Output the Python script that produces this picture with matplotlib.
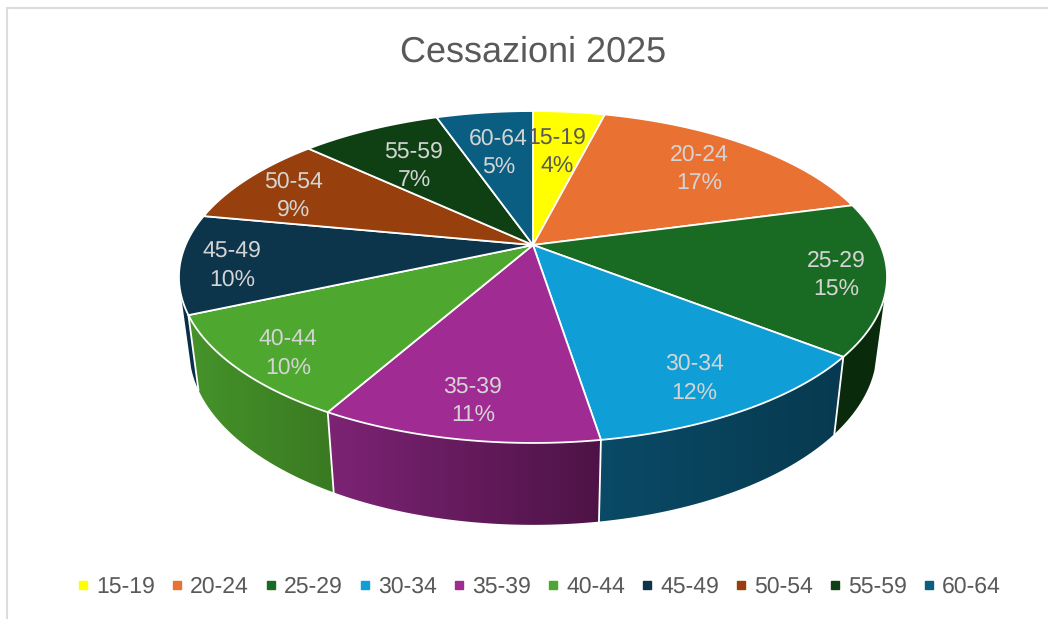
import numpy as np
import matplotlib
matplotlib.use('Agg')
import matplotlib.pyplot as plt
from matplotlib.colors import LinearSegmentedColormap
from matplotlib.lines import Line2D
from matplotlib.patches import Polygon

plt.rcParams['font.family'] = ['Liberation Sans', 'DejaVu Sans']
plt.rcParams['text.hinting'] = 'no_hinting'
plt.rcParams['text.hinting_factor'] = 1

title = 'Cessazioni 2025'
categories = ['15-19', '20-24', '25-29', '30-34', '35-39', '40-44', '45-49', '50-54', '55-59', '60-64']
shares = [3.95, 16.85, 14.78, 11.89, 10.71, 10.19, 9.63, 8.95, 7.73, 5.32]
percent_labels = ['4%', '17%', '15%', '12%', '11%', '10%', '10%', '9%', '7%', '5%']

colors = ['#ffff00', '#e97132', '#196b24', '#0f9ed5', '#a02b93',
          '#4ea72e', '#0c344a', '#97400d', '#0e4013', '#0a5e82']
wall_left = {2: '#0a2a0c', 3: '#0a4a66', 4: '#7c2374', 5: '#45932a', 6: '#0a3048'}
wall_right = {2: '#0a2a0c', 3: '#073a50', 4: '#4e1346', 5: '#3a7a22', 6: '#0a3048'}
label_r = [0.675, 0.755, 0.86, 0.814, 0.826, 0.858, 0.855, 0.81, 0.678, 0.672]
label_turn = [-0.5, 0, 0, 1, 0, -1, -1, -2, -1, 0]
label_colors = ['#595959'] + ['#d4d4d4'] * 9

# perspective of the pie top, pixel units
cx, cy = 533, 245
ax_u, ax_v, tilt = 347.4, 159.8, 0.1928
# bottom rim of the wall
rim_sx, rim_sy, rim_y = 0.971, 1.055, 316
front_from, front_to = 107.5, 253.0


def project(angle, r=1.0):
    a = np.radians(angle)
    u, v = r * np.sin(a), -r * np.cos(a)
    w = 1 - tilt * v
    return cx + ax_u * u / w, cy + ax_v * v / w


def project_rim(angle):
    x, y = project(angle)
    return cx + rim_sx * (x - cx), rim_y + rim_sy * (y - cy)


fig = plt.figure(figsize=(10.48, 6.19), dpi=100)
ax = fig.add_axes([0, 0, 1, 1])

edges = np.concatenate([[0], np.cumsum(shares)]) / np.sum(shares) * 360

# walls
for i in range(len(shares)):
    a1, a2 = max(edges[i], front_from), min(edges[i + 1], front_to)
    if a2 <= a1:
        continue
    t = np.linspace(a1, a2, 80)
    xt, yt = project(t)
    xb, yb = project_rim(t)
    pts = np.column_stack([np.r_[xt, xb[::-1]], np.r_[yt, yb[::-1]]])
    poly = Polygon(pts, closed=True, fc='none', ec='none')
    ax.add_patch(poly)
    cmap = LinearSegmentedColormap.from_list('w', [wall_left[i], wall_right[i]])
    im = ax.imshow(np.linspace(0, 1, 64).reshape(1, -1), cmap=cmap, aspect='auto',
                   extent=(pts[:, 0].min(), pts[:, 0].max(), pts[:, 1].max(), pts[:, 1].min()),
                   zorder=1)
    im.set_clip_path(poly)

for a in edges:
    if front_from < a < front_to:
        x0, y0 = project(a)
        x1, y1 = project_rim(a)
        ax.plot([x0, x1], [y0, y1], color='white', lw=1.3, zorder=2)

# top face
for i in range(len(shares)):
    t = np.linspace(edges[i], edges[i + 1], 80)
    x, y = project(t)
    ax.fill(np.r_[cx, x], np.r_[cy, y], fc=colors[i], ec='white', lw=1.3, zorder=3, joinstyle='miter')

# labels
for i, cat in enumerate(categories):
    mid = (edges[i] + edges[i + 1]) / 2 + label_turn[i]
    x, y = project(mid, label_r[i])
    ax.text(x, y + 2, f'{cat}\n{percent_labels[i]}', ha='center', va='center', fontsize=16.6,
            color=label_colors[i], linespacing=1.45, zorder=4)

ax.text(533, 52, title, ha='center', va='center', fontsize=25.6, color='#595959')

# chart frame
ax.plot([6.5, 6.5, 1048], [619, 8, 8], color='#dcdcdc', lw=1.5, solid_joinstyle='miter')

handles = [Line2D([], [], ls='none', marker='s', ms=5.8, mfc=c, mec=c) for c in colors]
ax.legend(handles, categories, ncol=len(categories), loc='center', bbox_to_anchor=(539.5 / 1048, 1 - 587 / 619),
          frameon=False, fontsize=16.6, labelcolor='#595959', handlelength=0.4, handletextpad=0.38,
          columnspacing=0.745, borderpad=0, borderaxespad=0)

ax.set_xlim(0, 1048)
ax.set_ylim(619, 0)
ax.axis('off')
fig.savefig('out.png', dpi=100)
